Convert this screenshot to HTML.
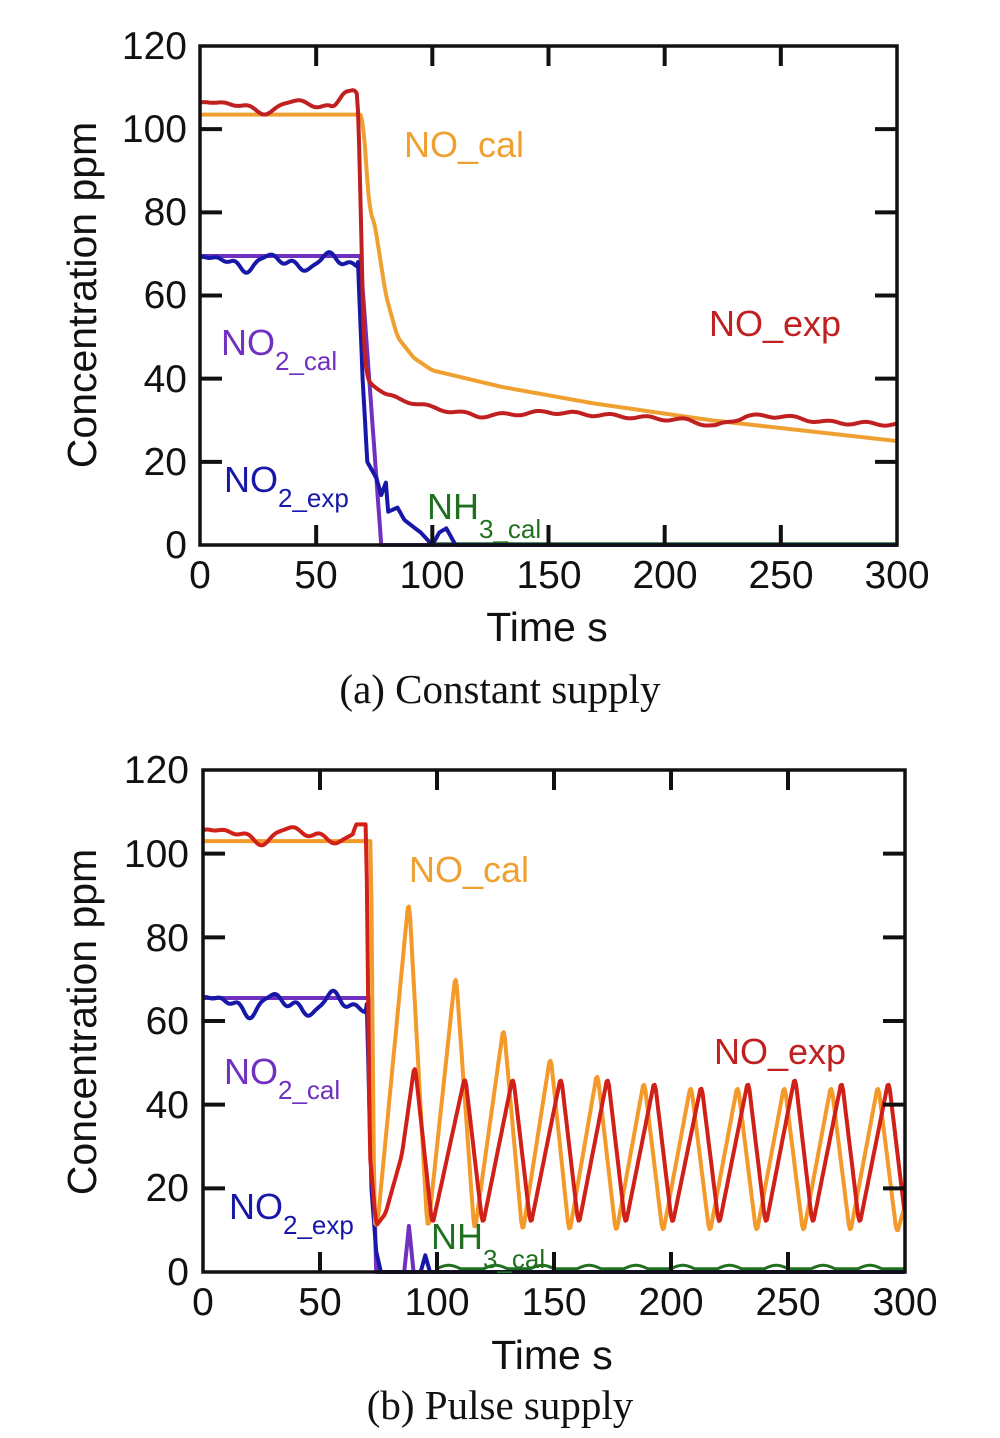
<!DOCTYPE html><html><head><style>
body{margin:0;background:#fff;width:1000px;height:1433px;overflow:hidden}
svg text{font-family:"Liberation Sans",Arial,sans-serif}
</style></head><body>
<svg id="s" width="1000" height="1433" xmlns="http://www.w3.org/2000/svg">
<g font-size="39" fill="#111">
<text x="187" y="59" text-anchor="end">120</text>
<text x="187" y="142" text-anchor="end">100</text>
<text x="187" y="225" text-anchor="end">80</text>
<text x="187" y="308" text-anchor="end">60</text>
<text x="187" y="392" text-anchor="end">40</text>
<text x="187" y="475" text-anchor="end">20</text>
<text x="187" y="558" text-anchor="end">0</text>
<text x="200" y="588" text-anchor="middle">0</text>
<text x="316" y="588" text-anchor="middle">50</text>
<text x="432" y="588" text-anchor="middle">100</text>
<text x="549" y="588" text-anchor="middle">150</text>
<text x="665" y="588" text-anchor="middle">200</text>
<text x="781" y="588" text-anchor="middle">250</text>
<text x="897" y="588" text-anchor="middle">300</text>
<text x="547" y="641" text-anchor="middle" font-size="41">Time s</text>
<text transform="translate(96,295) rotate(-90)" text-anchor="middle" font-size="41">Concentration ppm</text>

<text x="189" y="783" text-anchor="end">120</text>
<text x="189" y="867" text-anchor="end">100</text>
<text x="189" y="951" text-anchor="end">80</text>
<text x="189" y="1034" text-anchor="end">60</text>
<text x="189" y="1118" text-anchor="end">40</text>
<text x="189" y="1201" text-anchor="end">20</text>
<text x="189" y="1285" text-anchor="end">0</text>
<text x="203" y="1315" text-anchor="middle">0</text>
<text x="320" y="1315" text-anchor="middle">50</text>
<text x="437" y="1315" text-anchor="middle">100</text>
<text x="554" y="1315" text-anchor="middle">150</text>
<text x="671" y="1315" text-anchor="middle">200</text>
<text x="788" y="1315" text-anchor="middle">250</text>
<text x="905" y="1315" text-anchor="middle">300</text>
<text x="552" y="1369" text-anchor="middle" font-size="41">Time s</text>
<text transform="translate(96,1022) rotate(-90)" text-anchor="middle" font-size="41">Concentration ppm</text>
</g>
<g font-size="41" fill="#111" text-anchor="middle">
<text x="500" y="703" style="font-family:'Liberation Serif',serif">(a) Constant supply</text>
<text x="500" y="1419" style="font-family:'Liberation Serif',serif">(b) Pulse supply</text>
</g>
<g id="plots"></g>
<g font-size="36">
<text x="404" y="157" fill="#F0A030">NO_cal</text>
<text x="709" y="336" fill="#C02020">NO_exp</text>
<text x="221" y="355" fill="#7030C0">NO<tspan font-size="26" dy="15">2_cal</tspan></text>
<text x="224" y="492" fill="#1818A8">NO<tspan font-size="26" dy="15">2_exp</tspan></text>
<text x="427" y="519" fill="#207020">NH<tspan font-size="26" dy="19">3_cal</tspan></text>
<text x="409" y="882" fill="#F0A030">NO_cal</text>
<text x="714" y="1064" fill="#C02020">NO_exp</text>
<text x="224" y="1084" fill="#7030C0">NO<tspan font-size="26" dy="15">2_cal</tspan></text>
<text x="229" y="1219" fill="#1818A8">NO<tspan font-size="26" dy="15">2_exp</tspan></text>
<text x="431" y="1249" fill="#207020">NH<tspan font-size="26" dy="19">3_cal</tspan></text>
</g>
</svg>
<script>
var NS="http://www.w3.org/2000/svg",G=document.getElementById("plots");
function el(t,a){var e=document.createElementNS(NS,t);for(var k in a)e.setAttribute(k,a[k]);G.appendChild(e);return e;}
function interp(pts,t){for(var i=1;i<pts.length;i++){if(t<=pts[i][0]){var a=pts[i-1],b=pts[i];return a[1]+(b[1]-a[1])*(t-a[0])/(b[0]-a[0]);}}return pts[pts.length-1][1];}
function plot(P,f,col,w,sm){var v=[];for(var t=0;t<=300;t+=0.5)v.push(f(t));
if(sm){var u=[];for(var i=0;i<v.length;i++){var s=0,c=0;for(var k=-sm;k<=sm;k++){if(v[i+k]!==undefined){s+=v[i+k];c++;}}u.push(s/c);}v=u;}
var d="";for(var i=0;i<v.length;i++){var t=i*0.5;var x=P.x0+t*(P.x1-P.x0)/300,y=P.y0-v[i]*(P.y0-P.y1)/120;d+=(d?"L":"M")+x.toFixed(1)+" "+y.toFixed(1);}el("path",{d:d,fill:"none",stroke:col,"stroke-width":w||4,"stroke-linejoin":"round"});}
function frame(P){el("rect",{x:P.x0,y:P.y1,width:P.x1-P.x0,height:P.y0-P.y1,fill:"none",stroke:"#111","stroke-width":3.5});
for(var i=1;i<6;i++){var x=P.x0+i*(P.x1-P.x0)/6;el("line",{x1:x,x2:x,y1:P.y0,y2:P.y0-20,stroke:"#111","stroke-width":4});el("line",{x1:x,x2:x,y1:P.y1,y2:P.y1+20,stroke:"#111","stroke-width":4});}
for(var j=1;j<6;j++){var y=P.y0-j*(P.y0-P.y1)/6;el("line",{x1:P.x0,x2:P.x0+22,y1:y,y2:y,stroke:"#111","stroke-width":4});el("line",{x1:P.x1,x2:P.x1-22,y1:y,y2:y,stroke:"#111","stroke-width":4});}}
function n(t,s){return Math.sin(t*s)+0.5*Math.sin(t*s*1.9+1)+0.3*Math.sin(t*s*3.1+2);}
// (a)
var A={x0:200,x1:897,y0:545,y1:46};
plot(A,function(t){return t<98?0:0.3;},"#207020",3);
plot(A,function(t){return interp([[0,69.5],[69,69.5],[78,0],[300,0]],t);},"#7030C0");
plot(A,function(t){if(t<68)return 68+1.5*n(t,0.25);return interp([[68,68],[70,40],[72,20],[76,16],[78,12],[80,15],[81,8],[85,9],[88,6],[95,3],[100,0],[103,3],[106,4],[110,0],[300,0]],t);},"#1818A8");
plot(A,function(t){return interp([[0,103.5],[70,103.5],[73,80],[75,78],[80,60],[85,50],[92,45],[100,42],[130,38],[170,34],[220,30],[300,25]],t);},"#F0A030",4,2);
plot(A,function(t){if(t<58)return 105.5+1.2*n(t,0.18);return interp([[58,106],[62,109],[67,109],[68.5,107],[70,50],[72,40],[80,36],[100,33],[120,31],[150,32],[180,31],[210,30],[222,28.5],[235,31],[250,31],[270,29.5],[300,29]],t)+0.4*Math.sin(t*0.4);},"#C02020",4,2);
frame(A);
// (b)
var B={x0:203,x1:905,y0:1272,y1:770};
plot(B,function(t){return t<100?0:(0.8+0.8*Math.max(0,Math.sin((t-100)*Math.PI/10)));},"#207020",3);
plot(B,function(t){if(t<71)return 65.5;return interp([[71,65.5],[74,0],[86,0],[88,11],[90,0],[300,0]],t);},"#7030C0");
plot(B,function(t){if(t<70)return 64+2*n(t,0.25);return interp([[70,64],[72,20],[74,5],[76,0],[93,0],[95,4],[97,0],[300,0]],t);},"#1818A8");
function noCal(t){if(t<72)return 103;var pk=[[88,90],[108,72],[128.5,59],[148.5,52],[168.5,48],[188.5,46],[208.5,45],[228.5,45],[248.5,45],[268.5,45],[288.5,45]];
var pts=[[72,103],[73,12],[74.5,11]];for(var i=0;i<pk.length;i++){pts.push([pk[i][0],pk[i][1]]);pts.push([pk[i][0]+8,9]);}pts.push([300,16]);return interp(pts,t);}
plot(B,noCal,"#F39A2A",4,1);
function noExp(t){if(t<65)return 104.5+1.5*n(t,0.2);if(t<70)return 107;var pk=[[90.5,50],[112,47],[132.5,47],[153,47],[173,47],[193,46],[213,45],[233,46],[253,47],[273,46],[293,46]];
var pts=[[70,107],[71,30],[74,11],[78,14],[85,28]];for(var i=0;i<pk.length;i++){pts.push([pk[i][0],pk[i][1]]);pts.push([pk[i][0]+7.5,11]);}pts.push([300,30]);return interp(pts,t);}
plot(B,noExp,"#D02018",4,1);
frame(B);
</script>
</body></html>
